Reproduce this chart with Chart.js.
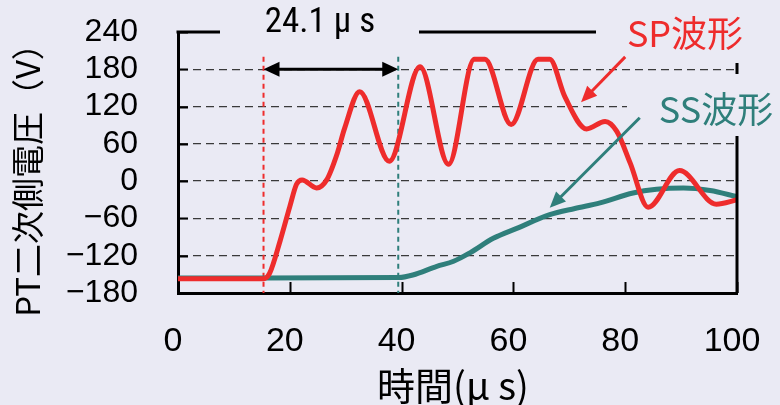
<!DOCTYPE html>
<html>
<head>
<meta charset="utf-8">
<script src="https://cdn.jsdelivr.net/npm/chart.js@4.4.0/dist/chart.umd.min.js"></script>
<style>
  html, body { margin: 0; padding: 0; background: #EAEAF4; }
  #wrap { width: 780px; height: 405px; }
</style>
</head>
<body>
<div id="wrap"><canvas id="c" width="780" height="405"></canvas></div>
<script>
// SP waveform (time in μs, voltage in V)
const spTime = [0, 15.3, 16.4, 18.3, 20.0, 21.2, 22.2, 24.8, 26.6, 28.5, 29.8, 32.5, 37.8, 43.3, 48.4, 53.0, 54.9, 59.6, 64.4, 66.5, 69.2, 73.1, 76.4, 78.5, 80.9, 84.1, 89.7, 96.3, 100];
const spVolt = [-157, -157, -148, -95, -41, -5, 2, -11, 2, 45, 85, 144, 32, 184, 27, 196, 196, 91, 196, 196, 136, 84, 96, 80, 29, -42, 17, -37, -30];

// SS waveform
const ssTime = [0, 15.3, 39.5, 42.0, 46.3, 49.3, 52.3, 56.4, 60.6, 66.5, 71.0, 75.5, 81.4, 85.6, 90.4, 95.2, 100];
const ssVolt = [-156, -156, -155, -151, -137, -129, -115, -92, -76, -54, -44, -35, -19, -13, -11, -15, -25];

// axis ticks
const xTicks = [0, 20, 40, 60, 80, 100];
const yTicks = [-180, -120, -60, 0, 60, 120, 180, 240];

// start of each waveform's rise and the interval between them
const spStart = 15.3;
const ssStart = 39.4;
const intervalText = '24.1 μ s';

const BG = '#EAEAF4';
const RED = '#EE2C2C';
const TEAL = '#2F7F7B';
const CONDENSED = '"Roboto Condensed", "DejaVu Sans Condensed", sans-serif';
const JP = '"Noto Sans CJK JP", sans-serif';

function arrowHead(ctx, x1, y1, x2, y2, len, half) {
  const a = Math.atan2(y2 - y1, x2 - x1);
  ctx.beginPath();
  ctx.moveTo(x2, y2);
  ctx.lineTo(x2 - len * Math.cos(a) + half * Math.sin(a), y2 - len * Math.sin(a) - half * Math.cos(a));
  ctx.lineTo(x2 - len * Math.cos(a) - half * Math.sin(a), y2 - len * Math.sin(a) + half * Math.cos(a));
  ctx.closePath();
  ctx.fill();
}

function arrow(ctx, x1, y1, x2, y2, color, width, len, half) {
  const a = Math.atan2(y2 - y1, x2 - x1);
  ctx.save();
  ctx.strokeStyle = color;
  ctx.fillStyle = color;
  ctx.lineWidth = width;
  ctx.beginPath();
  ctx.moveTo(x1, y1);
  ctx.lineTo(x2 - (len - 2) * Math.cos(a), y2 - (len - 2) * Math.sin(a));
  ctx.stroke();
  arrowHead(ctx, x1, y1, x2, y2, len, half);
  ctx.restore();
}

const decor = {
  id: 'decor',
  beforeDatasetsDraw(chart) {
    const { ctx, scales: { x, y } } = chart;
    // dashed markers at the start of each rise
    [[spStart, RED], [ssStart, TEAL]].forEach(([t, col]) => {
      ctx.save();
      ctx.strokeStyle = col;
      ctx.lineWidth = 2;
      ctx.setLineDash([5, 4]);
      ctx.beginPath();
      ctx.moveTo(x.getPixelForValue(t), y.getPixelForValue(200));
      ctx.lineTo(x.getPixelForValue(t), y.getPixelForValue(-180));
      ctx.stroke();
      ctx.restore();
    });
  },
  afterDatasetsDraw(chart) {
    const { ctx, chartArea: ca, scales: { x, y } } = chart;
    ctx.save();
    // inward tick marks
    ctx.strokeStyle = '#000';
    ctx.lineWidth = 2;
    yTicks.forEach(v => {
      const py = Math.round(y.getPixelForValue(v)) + 0.5;
      ctx.beginPath(); ctx.moveTo(ca.left, py); ctx.lineTo(ca.left + 10, py); ctx.stroke();
    });
    xTicks.forEach(v => {
      const px = Math.round(x.getPixelForValue(v)) + 0.5;
      ctx.beginPath(); ctx.moveTo(px, ca.bottom); ctx.lineTo(px, ca.bottom - 11); ctx.stroke();
    });
    // top and right frame lines
    ctx.lineWidth = 3;
    ctx.beginPath();
    ctx.moveTo(ca.left - 1.5, ca.top);
    ctx.lineTo(ca.right, ca.top);
    ctx.lineTo(ca.right, ca.bottom);
    ctx.stroke();

    // label backgrounds that break the frame
    ctx.fillStyle = BG;
    ctx.fillRect(220, 0, 199, 50);
    ctx.fillRect(596, 0, 184, 63);
    ctx.fillRect(627, 74, 153, 62);

    // interval text
    ctx.fillStyle = '#000';
    ctx.textAlign = 'center';
    ctx.textBaseline = 'middle';
    ctx.font = '35px ' + CONDENSED;
    ctx.fillText(intervalText, 320, 23);

    // series labels
    ctx.font = '36px ' + JP;
    ctx.fillStyle = RED;
    ctx.fillText('SP波形', 685, 33);
    ctx.fillStyle = TEAL;
    ctx.fillText('SS波形', 716, 109);

    // interval arrow between the two markers
    const ay = y.getPixelForValue(180);
    const xa = x.getPixelForValue(spStart), xb = x.getPixelForValue(ssStart);
    ctx.strokeStyle = '#000';
    ctx.fillStyle = '#000';
    ctx.lineWidth = 3;
    ctx.beginPath(); ctx.moveTo(xa + 12, ay); ctx.lineTo(xb - 12, ay); ctx.stroke();
    arrowHead(ctx, xb, ay, xa, ay, 16, 7.5);
    arrowHead(ctx, xa, ay, xb, ay, 16, 7.5);

    // pointer arrows to each curve
    arrow(ctx, x.getPixelForValue(80.0), y.getPixelForValue(200), x.getPixelForValue(72.1), y.getPixelForValue(127), RED, 3, 16, 7);
    arrow(ctx, x.getPixelForValue(82.6), y.getPixelForValue(102), x.getPixelForValue(66.5), y.getPixelForValue(-43), TEAL, 3, 16, 7);

    // axis titles
    ctx.fillStyle = '#000';
    ctx.font = '38px ' + JP;
    ctx.fillText('時間(μ s)', 453, 386);
    ctx.translate(27, 172);
    ctx.rotate(-Math.PI / 2);
    ctx.font = '33px ' + JP;
    ctx.fillText('PT二次側電圧（V）', 0, 0);
    ctx.restore();
  }
};

const toPoints = (xs, ys) => xs.map((t, i) => ({ x: t, y: ys[i] }));
const noPad = s => { s.paddingTop = 0; s.paddingBottom = 0; s.paddingLeft = 0; s.paddingRight = 0; };

new Chart(document.getElementById('c'), {
  type: 'line',
  data: {
    datasets: [
      {
        label: 'SP波形',
        data: toPoints(spTime, spVolt),
        borderColor: RED,
        borderWidth: 5,
        pointRadius: 0,
        cubicInterpolationMode: 'monotone',
        order: 0
      },
      {
        label: 'SS波形',
        data: toPoints(ssTime, ssVolt),
        borderColor: TEAL,
        borderWidth: 5,
        pointRadius: 0,
        cubicInterpolationMode: 'monotone',
        order: 1
      }
    ]
  },
  options: {
    responsive: false,
    animation: false,
    devicePixelRatio: 1,
    layout: { padding: { top: 32, right: 43, left: 0, bottom: 0 } },
    plugins: { legend: { display: false }, tooltip: { enabled: false } },
    scales: {
      x: {
        type: 'linear',
        min: 0, max: 100,
        afterBuildTicks: s => { s.ticks = xTicks.map(v => ({ value: v })); },
        afterFit: s => { s.height = 112; noPad(s); },
        grid: { drawOnChartArea: false, drawTicks: false },
        border: { display: true, color: '#000', width: 3 },
        ticks: {
          autoSkip: false,
          padding: 28,
          labelOffset: -5,
          color: '#000',
          maxRotation: 0,
          font: { family: '"Liberation Sans", sans-serif', size: 34 }
        }
      },
      y: {
        min: -180, max: 240,
        afterBuildTicks: s => { s.ticks = yTicks.map(v => ({ value: v })); },
        afterFit: s => { s.width = 178; noPad(s); },
        grid: {
          drawTicks: false,
          lineWidth: 1.3,
          color: c => (c.tick && (c.tick.value === 240 || c.tick.value === -180)) ? 'rgba(0,0,0,0)' : '#3a3a3a'
        },
        border: { display: true, color: '#000', width: 3, dash: [8, 5] },
        ticks: {
          autoSkip: false,
          padding: 40,
          color: '#000',
          font: { family: '"Liberation Sans", sans-serif', size: 32 },
          callback: v => String(v).replace('-', '\u2212')
        }
      }
    }
  },
  plugins: [decor]
});
</script>
</body>
</html>
